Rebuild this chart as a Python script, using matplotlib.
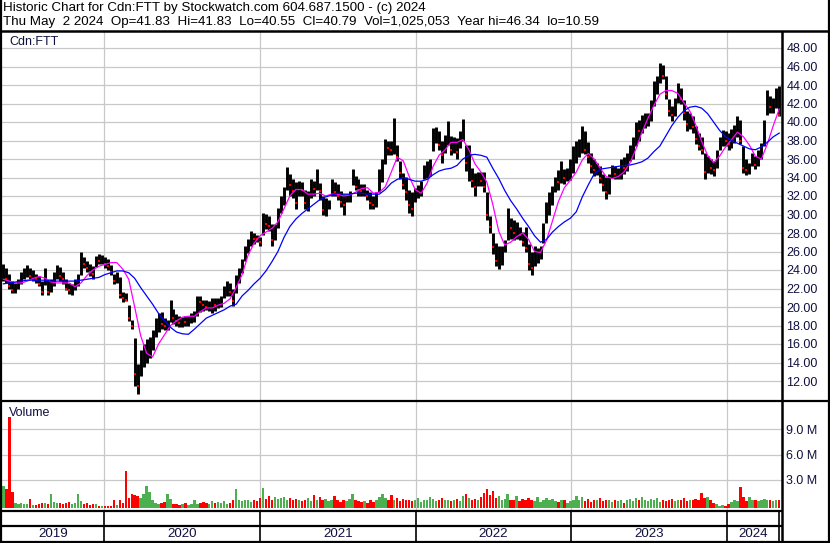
import numpy as np
import pandas as pd
import matplotlib
matplotlib.use('Agg')
import matplotlib.pyplot as plt
import matplotlib.dates as mdates

# ---------------- data (weekly) ----------------
high = [24.6, 24.2, 23.6, 22.8, 22.6, 23.0, 23.8, 24.2, 24.5, 24.2,
        24.0, 23.6, 23.4, 22.8, 24.2, 23.0, 23.0, 23.8, 24.5, 24.3,
        23.8, 23.0, 22.6, 22.5, 23.0, 23.6, 26.0, 25.4, 25.0, 24.6,
        24.4, 25.5, 25.7, 25.6, 25.4, 25.2, 24.5, 23.6, 23.8, 23.2,
        21.6, 21.5, 20.2, 18.6, 16.6, 13.8, 15.3, 16.0, 16.5, 16.8,
        17.5, 18.8, 19.3, 19.5, 18.8, 18.6, 20.8, 19.8, 19.2, 19.0,
        18.9, 19.0, 19.0, 19.3, 19.6, 21.2, 21.2, 20.8, 20.8, 20.6,
        21.0, 21.0, 21.0, 21.2, 22.3, 22.8, 22.6, 21.9, 23.5, 24.2,
        25.2, 26.6, 27.4, 28.2, 28.0, 27.8, 27.6, 30.2, 30.1, 29.8,
        29.0, 29.0, 30.7, 32.0, 33.0, 35.1, 34.4, 33.8, 33.5, 33.6,
        33.5, 32.7, 32.5, 33.8, 33.6, 34.9, 33.4, 32.0, 31.8, 31.6,
        33.8, 33.5, 33.3, 32.5, 32.2, 32.2, 32.5, 34.9, 34.2, 33.8,
        33.3, 33.3, 32.7, 32.4, 32.0, 32.4, 34.9, 36.0, 38.2, 38.0,
        38.0, 40.4, 37.5, 35.8, 34.5, 34.1, 32.7, 32.4, 32.9, 33.2,
        33.6, 35.4, 35.8, 36.0, 39.3, 39.5, 39.0, 38.0, 38.6, 40.1,
        38.5, 38.4, 38.3, 39.0, 40.3, 37.5, 37.5, 35.0, 34.5, 34.6,
        34.6, 34.6, 32.4, 29.8, 28.0, 26.9, 26.6, 26.6, 27.2, 30.7,
        29.6, 29.4, 29.2, 28.6, 28.1, 28.7, 26.8, 26.0, 26.6, 26.4,
        26.6, 29.1, 31.4, 32.4, 33.1, 34.1, 34.8, 35.8, 34.9, 35.0,
        36.0, 37.4, 38.0, 38.2, 39.6, 39.0, 37.8, 36.7, 36.0, 35.6,
        35.2, 34.4, 34.1, 34.4, 35.4, 35.2, 35.0, 36.0, 36.2, 36.6,
        37.5, 38.4, 40.0, 40.2, 40.8, 41.0, 41.0, 42.4, 44.4, 45.0,
        46.4, 46.2, 45.0, 42.5, 41.7, 42.6, 44.2, 43.7, 42.4, 41.2,
        41.0, 40.7, 39.6, 38.8, 38.4, 36.7, 36.3, 36.0, 35.8, 37.0,
        38.4, 39.1, 39.0, 38.8, 39.2, 39.7, 40.6, 40.2, 37.4, 36.0,
        35.6, 36.7, 36.3, 37.0, 37.7, 40.2, 43.5, 42.8, 42.6, 43.7,
        43.9]

low = [22.8, 22.6, 22.0, 21.5, 21.5, 22.0, 22.5, 23.0, 23.2, 23.0,
       22.8, 22.6, 22.3, 21.3, 22.4, 21.3, 21.6, 22.3, 23.0, 22.8,
       22.5, 21.8, 21.4, 21.3, 21.8, 22.3, 23.5, 24.2, 23.8, 23.4,
       23.0, 24.3, 24.6, 24.6, 24.2, 24.0, 23.5, 22.5, 22.6, 21.0,
       20.5, 20.6, 18.5, 17.6, 11.5, 10.6, 12.5, 13.5, 14.0, 14.5,
       15.3, 16.8, 17.3, 17.6, 17.5, 17.5, 18.4, 18.2, 18.0, 17.8,
       17.8, 18.0, 18.0, 18.3, 18.4, 19.0, 19.5, 19.6, 19.7, 19.6,
       19.4, 19.6, 19.9, 20.0, 21.0, 21.2, 21.2, 20.1, 21.5, 22.6,
       23.7, 25.0, 25.8, 26.6, 26.8, 27.0, 26.6, 27.8, 28.4, 28.2,
       26.6, 27.2, 28.5, 30.2, 31.0, 32.7, 32.0, 31.8, 30.6, 32.0,
       32.0, 30.6, 30.4, 31.8, 32.0, 32.7, 31.6, 30.0, 29.8, 30.6,
       32.0, 32.0, 31.6, 30.8, 30.0, 31.3, 31.4, 33.2, 32.6, 32.0,
       32.0, 32.0, 31.6, 30.6, 30.6, 30.8, 32.4, 33.5, 35.5, 36.4,
       36.4, 36.5, 35.8, 33.8, 32.8, 31.6, 30.2, 29.8, 31.3, 31.8,
       32.0, 33.8, 34.0, 34.2, 36.9, 37.7, 37.0, 35.6, 36.6, 37.5,
       36.4, 36.6, 36.0, 37.2, 38.0, 34.7, 33.6, 33.0, 32.0, 33.1,
       33.1, 32.4, 29.4, 28.0, 25.7, 24.4, 24.1, 24.5, 25.9, 27.2,
       27.4, 27.2, 27.4, 27.2, 26.6, 25.9, 24.0, 23.5, 24.4, 24.8,
       25.2, 26.9, 29.1, 30.0, 31.0, 32.4, 32.6, 33.4, 33.3, 33.6,
       33.7, 34.5, 35.6, 36.2, 36.7, 36.5, 35.6, 34.5, 34.2, 34.3,
       33.4, 32.5, 31.7, 32.2, 34.0, 33.8, 33.8, 33.8, 34.4, 34.7,
       35.8, 36.0, 37.4, 38.0, 38.8, 39.4, 39.6, 40.1, 41.7, 43.0,
       44.2, 44.6, 42.5, 40.7, 40.1, 40.6, 42.1, 41.9, 40.2, 39.0,
       39.2, 38.8, 37.6, 37.0, 36.5, 33.8, 34.5, 34.4, 34.2, 35.0,
       37.0, 37.4, 37.4, 37.0, 37.2, 37.7, 38.4, 37.6, 34.5, 34.3,
       34.4, 35.2, 34.9, 35.2, 36.0, 37.4, 40.8, 41.0, 41.0, 41.5,
       40.6]

close = [23.5, 23.0, 22.3, 21.8, 22.2, 22.6, 23.4, 23.8, 24.0, 23.4,
         23.6, 23.0, 22.5, 21.6, 23.6, 21.6, 22.6, 23.4, 24.0, 23.3,
         23.0, 22.0, 21.8, 22.0, 22.8, 23.2, 25.2, 24.6, 24.2, 23.8,
         23.6, 25.2, 25.0, 25.3, 24.6, 24.4, 23.8, 22.8, 23.2, 21.3,
         21.0, 20.8, 18.8, 17.9, 12.8, 11.5, 14.2, 15.0, 15.5, 16.3,
         17.0, 18.3, 18.6, 18.2, 18.0, 18.2, 19.8, 18.8, 18.5, 18.3,
         18.6, 18.4, 18.8, 19.0, 19.3, 20.6, 20.5, 20.2, 20.0, 20.0,
         20.4, 20.2, 20.6, 21.0, 21.8, 22.3, 21.6, 20.6, 23.2, 23.6,
         24.8, 26.0, 27.0, 27.5, 27.4, 27.3, 27.0, 29.6, 29.0, 28.8,
         27.2, 28.5, 30.0, 31.5, 32.6, 33.5, 33.2, 32.5, 31.2, 33.0,
         32.6, 31.2, 31.5, 33.0, 32.8, 34.2, 32.5, 30.5, 31.0, 31.2,
         33.2, 32.4, 32.0, 31.4, 31.0, 31.8, 32.2, 34.2, 33.0, 32.6,
         32.5, 32.8, 32.0, 31.2, 31.0, 32.0, 34.0, 35.5, 37.5, 37.2,
         37.0, 37.8, 36.2, 34.5, 33.2, 32.4, 31.0, 30.6, 32.2, 32.6,
         33.2, 35.0, 35.2, 35.5, 38.5, 38.8, 37.5, 36.4, 38.0, 39.2,
         37.0, 37.8, 36.8, 38.5, 39.4, 35.6, 36.0, 33.6, 33.0, 34.0,
         33.6, 33.0, 30.0, 28.6, 26.5, 25.0, 25.2, 26.0, 26.6, 29.5,
         28.5, 28.0, 28.6, 27.8, 27.0, 26.4, 24.6, 24.2, 25.5, 25.8,
         26.2, 28.4, 30.6, 31.8, 32.0, 33.8, 33.5, 35.0, 34.0, 34.5,
         35.5, 36.5, 37.2, 37.5, 38.0, 37.0, 36.2, 35.2, 34.8, 35.0,
         34.0, 33.2, 32.4, 33.8, 34.8, 34.4, 34.6, 35.4, 35.0, 35.8,
         37.0, 37.8, 39.2, 39.0, 40.2, 40.2, 40.6, 41.8, 43.5, 44.2,
         45.5, 45.0, 43.0, 41.2, 40.8, 42.0, 43.4, 42.5, 41.0, 39.8,
         40.4, 39.5, 38.2, 37.4, 37.0, 34.6, 35.4, 35.0, 34.8, 36.5,
         38.0, 38.6, 38.0, 37.6, 38.6, 39.0, 40.2, 38.0, 35.0, 34.8,
         35.2, 36.0, 35.4, 36.4, 37.2, 39.6, 42.8, 41.6, 42.0, 43.0,
         40.79]

volume_m = [2.6, 2.2, 10.7, 1.9, 0.6, 0.5, 0.6, 0.5, 0.5, 1.1,
            0.4, 0.4, 0.5, 0.6, 0.6, 0.5, 1.6, 0.7, 0.6, 0.6,
            0.5, 0.6, 0.7, 0.5, 0.6, 1.6, 0.8, 0.5, 0.6, 0.4,
            0.5, 0.5, 0.3, 0.2, 0.2, 0.3, 0.2, 0.9, 0.4, 0.9,
            0.6, 4.4, 1.2, 1.6, 1.5, 1.4, 1.2, 1.6, 2.6, 1.9,
            0.9, 0.6, 0.5, 0.6, 0.7, 1.6, 1.1, 0.5, 0.5, 0.4,
            0.5, 0.6, 0.4, 0.5, 0.9, 0.5, 0.6, 0.7, 0.6, 0.5,
            0.8, 0.6, 0.7, 0.6, 0.8, 0.5, 0.6, 0.9, 2.2, 0.9,
            0.8, 1.0, 0.9, 0.7, 0.9, 0.8, 1.2, 2.4, 1.1, 1.4,
            0.9, 1.3, 1.1, 1.2, 1.3, 1.0, 1.2, 0.9, 1.1, 1.0,
            0.8, 0.9, 1.2, 0.8, 1.5, 1.0, 1.3, 0.9, 1.1, 0.8,
            1.0, 1.4, 0.9, 0.7, 1.0, 0.8, 1.1, 1.6, 0.9, 0.8,
            0.7, 0.8, 0.6, 0.9, 0.7, 1.0, 1.3, 1.7, 1.2, 1.0,
            1.5, 0.9, 1.2, 0.8, 1.1, 0.9, 1.0, 0.8, 0.9, 1.2,
            0.7, 1.0, 0.9, 1.3, 1.1, 0.8, 1.0, 1.2, 0.9, 1.0,
            0.8, 0.9, 1.1, 0.8, 1.4, 1.6, 1.2, 0.9, 1.1, 1.0,
            1.3, 1.8, 2.2, 1.5, 2.0, 1.2, 1.4, 1.0, 1.1, 1.6,
            0.9, 1.0, 1.4, 0.8, 1.1, 0.9, 1.2, 1.0, 0.8, 1.3,
            0.7, 1.0, 1.2, 0.9, 1.1, 0.8, 0.7, 1.0, 0.9, 0.6,
            0.8, 0.9, 1.4, 1.0, 1.3, 0.8, 1.1, 0.7, 1.0, 0.9,
            1.2, 0.8, 0.9, 1.0, 0.7, 0.9, 0.8, 1.0, 0.6, 0.9,
            1.1, 0.8, 1.2, 0.9, 1.3, 1.0, 0.8, 1.1, 0.9, 1.2,
            0.7, 1.0, 0.8, 0.9, 1.1, 0.8, 1.0, 0.9, 1.2, 0.8,
            1.0, 0.9, 1.1, 1.0, 1.8, 1.2, 1.3, 1.0, 0.6, 0.5,
            0.3, 0.4, 0.3, 0.5, 0.7, 0.9, 0.8, 2.5, 1.3, 0.8,
            1.3, 1.0, 0.9, 0.8, 1.0, 1.1, 0.9, 1.0, 0.8, 1.0,
            1.0]

# moving averages, every two weeks
ma_short = [23.0, 22.8, 22.6, 22.6, 22.8, 23.1, 23.3, 23.1, 22.7, 22.6,
            22.6, 22.6, 22.2, 22.6, 23.4, 24.0, 24.4, 24.6, 24.8, 24.8,
            24.1, 23.0, 20.0, 16.9, 15.0, 14.6, 16.0, 17.0, 18.0, 18.5,
            18.9, 19.0, 19.0, 19.5, 19.9, 19.9, 20.2, 20.4, 20.9, 22.1,
            23.5, 25.6, 26.9, 27.7, 28.1, 28.5, 29.2, 30.6, 32.0, 32.7,
            32.7, 32.2, 32.2, 32.3, 32.0, 32.2, 32.2, 32.0, 32.1, 32.4,
            32.8, 32.9, 32.3, 32.4, 33.0, 34.6, 36.2, 35.8, 34.1, 32.7,
            32.3, 33.4, 35.2, 36.4, 37.0, 37.8, 37.8, 38.1, 37.0, 35.5,
            34.6, 33.5, 31.1, 28.2, 26.7, 27.0, 27.6, 28.0, 27.3, 26.0,
            25.9, 27.2, 29.3, 31.4, 32.9, 33.7, 34.6, 35.9, 36.6, 36.0,
            35.0, 34.1, 33.9, 34.1, 34.6, 35.6, 37.1, 38.9, 40.4, 41.8,
            43.0, 43.4, 43.4, 43.1, 42.1, 41.2, 39.7, 37.9, 36.4, 35.6,
            36.3, 37.3, 38.1, 38.9, 38.4, 37.5, 36.3, 36.0, 37.6, 39.6,
            41.4]

ma_long = [22.5, 22.6, 22.7, 22.8, 22.9, 22.9, 22.9, 22.9, 22.8, 22.8,
           22.8, 22.8, 22.8, 22.9, 23.0, 23.1, 23.2, 23.5, 23.7, 23.9,
           23.9, 23.7, 23.1, 22.1, 21.2, 20.3, 19.3, 18.5, 17.8, 17.3,
           17.1, 17.05, 17.6, 18.2, 18.8, 19.1, 19.4, 19.7, 20.1, 20.3,
           21.2, 21.8, 22.5, 23.1, 23.9, 24.9, 26.0, 27.5, 28.7, 29.5,
           30.1, 30.6, 31.1, 31.6, 31.9, 32.1, 32.3, 32.2, 32.2, 32.3,
           32.3, 32.2, 32.2, 32.2, 32.7, 33.4, 33.8, 34.0, 33.8, 33.6,
           33.6, 33.8, 34.3, 34.7, 34.9, 35.0, 35.3, 36.0, 36.4, 36.5,
           36.4, 36.2, 35.0, 33.9, 32.6, 31.5, 30.6, 29.6, 28.7, 27.7,
           27.0, 27.3, 28.1, 28.7, 29.2, 29.6, 30.3, 31.9, 33.2, 34.4,
           34.9, 35.0, 35.1, 35.2, 35.3, 35.35, 35.5, 35.7, 36.1, 36.8,
           37.4, 38.5, 39.6, 40.5, 41.2, 41.6, 41.7, 41.5, 40.9, 40.0,
           39.1, 38.4, 38.0, 37.7, 37.4, 37.1, 37.0, 37.3, 37.8, 38.4,
           38.8]

price_ticks = list(range(12, 50, 2))
volume_ticks = [3, 6, 9]
year_labels = ['2019', '2020', '2021', '2022', '2023', '2024']

header1 = 'Historic Chart for Cdn:FTT by Stockwatch.com 604.687.1500 - (c) 2024'
header2 = ('Thu May  2 2024  Op=41.83  Hi=41.83  Lo=40.55  Cl=40.79  '
           'Vol=1,025,053  Year hi=46.34  lo=10.59')
symbol = 'Cdn:FTT'

# ---------------- figure ----------------
plt.rcParams['font.family'] = ['Liberation Sans', 'DejaVu Sans']
W, H = 830, 543
fig = plt.figure(figsize=(W / 100, H / 100), dpi=100)
fig.patch.set_facecolor('white')


def frac(x0, y0, x1, y1):
    return [x0 / W, 1 - y1 / H, (x1 - x0) / W, (y1 - y0) / H]


week_dates = pd.date_range('2019-05-10', periods=len(high), freq='7D')
ma_dates = pd.date_range('2019-05-10', periods=len(ma_short), freq='14D')
wd = mdates.date2num(week_dates)
md = mdates.date2num(ma_dates)

ref = pd.Timestamp('2020-01-01')
PX_YEAR = 155.7


def px2num(p):
    return mdates.date2num(ref + pd.Timedelta(days=(p - 104) / PX_YEAR * 365.25))


XL = (px2num(2), px2num(782))
year_starts = [mdates.date2num(pd.Timestamp(f'{y}-01-01')) for y in range(2020, 2025)]

GRID = '#c8c8c8'
LBL = '#101040'
FS = 9
HFS = 9.6

hi = np.array(high); lo = np.array(low); cl = np.array(close)
vol = np.array(volume_m)

# price pane
ax = fig.add_axes(frac(2, 32, 782, 400))
ax.set_xlim(*XL)
ax.set_ylim(48 - (400 - 48) / 9.25, 48 + 16 / 9.25)
for s in ax.spines.values():
    s.set_visible(False)
ax.set_xticks(year_starts)
ax.set_yticks(price_ticks)
ax.yaxis.tick_right()
ax.set_yticklabels([f'{v:.2f}' for v in price_ticks], color=LBL, fontsize=FS)
ax.tick_params(axis='y', length=0, pad=3.2)
ax.tick_params(axis='x', length=0, labelbottom=False)
ax.grid(True, color=GRID, lw=0.9)
ax.set_axisbelow(True)
ax.vlines(wd, lo, hi, color='black', lw=2.1, zorder=3)
down = np.r_[False, cl[1:] < cl[:-1]]
ax.plot(wd[down], cl[down], 's', color='red', ms=1.7, mew=0, zorder=4)
ax.plot(md, ma_short, color='#ff00ff', lw=0.9, zorder=5)
ax.plot(md, ma_long, color='#0000ff', lw=0.9, zorder=5)

# volume pane
av = fig.add_axes(frac(2, 401, 782, 510))
av.set_xlim(*XL)
av.set_ylim(-(510 - 505.5) / 8.5, 9 + 28 / 8.5)
for s in av.spines.values():
    s.set_visible(False)
av.set_xticks(year_starts)
av.set_yticks(volume_ticks)
av.yaxis.tick_right()
av.set_yticklabels([f'{v:.1f} M' for v in volume_ticks], color=LBL, fontsize=FS)
av.tick_params(axis='y', length=0, pad=3.2)
av.tick_params(axis='x', length=0, labelbottom=False)
av.grid(True, color=GRID, lw=0.9)
av.set_axisbelow(True)
up = np.r_[True, cl[1:] >= cl[:-1]]
vcol = np.where(up, '#4caf50', '#ff0000')
av.bar(wd, vol, width=5.6, bottom=-0.3, color=vcol, linewidth=0, zorder=3)

# year band
ab = fig.add_axes(frac(2, 510, 782, 541))
ab.set_xlim(*XL)
ab.set_ylim(0, 1)
ab.axis('off')
bounds = [XL[0]] + year_starts + [wd[-1]]
for b in bounds[1:]:
    ab.axvline(b, color='black', lw=1.2)
for i, lab in enumerate(year_labels):
    ab.text((bounds[i] + bounds[i + 1]) / 2, 0.24, lab, ha='center', va='center',
            fontsize=HFS, color=LBL)

# frame / header overlay (pixel coordinates)
af = fig.add_axes([0, 0, 1, 1], zorder=10)
af.set_xlim(0, W)
af.set_ylim(H, 0)
af.axis('off')
af.patch.set_alpha(0)
k = dict(color='black', solid_capstyle='butt')
af.plot([0, W], [31, 31], lw=1.8, **k)
af.plot([0.8, 0.8], [0, 542], lw=1.6, **k)
af.plot([828.5, 828.5], [0, 542], lw=1.6, **k)
af.plot([0, W], [541.5, 541.5], lw=1.6, **k)
af.plot([782, 782], [31, 542], lw=1.8, **k)
af.plot([0, W], [400.5, 400.5], lw=1.6, **k)
af.plot([0, 782], [510.5, 510.5], lw=1.6, **k)
af.plot([0, 782], [526.3, 526.3], lw=1.6, **k)
af.text(3, 8, header1, fontsize=HFS, va='center', ha='left', color='black')
af.text(3, 21.5, header2, fontsize=HFS, va='center', ha='left', color='black')
af.text(9, 42, symbol, fontsize=FS, va='center', ha='left', color=LBL)
af.text(9, 413, 'Volume', fontsize=FS, va='center', ha='left', color=LBL)

fig.savefig('out.png', dpi=100, facecolor='white')
